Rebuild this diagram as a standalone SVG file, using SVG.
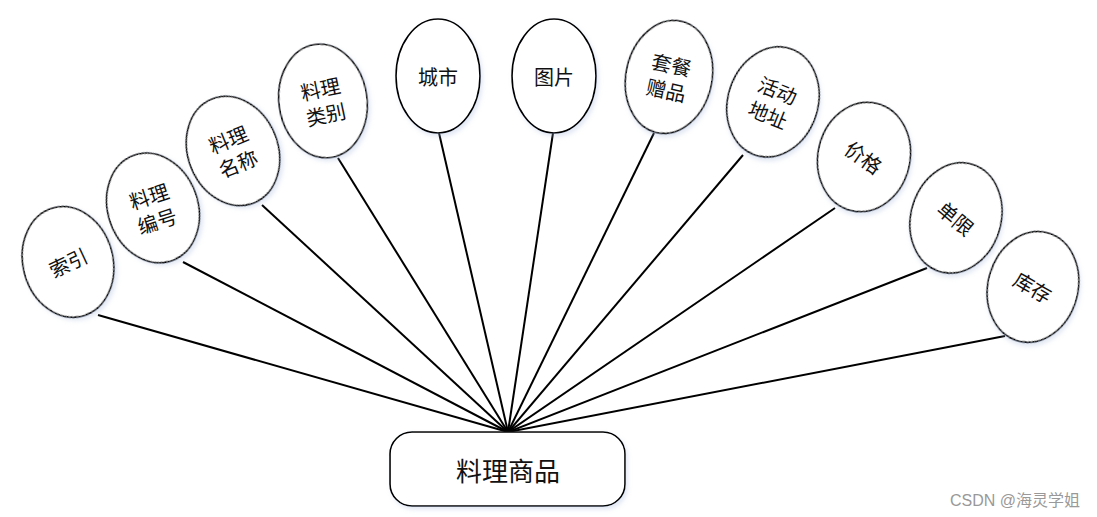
<svg xmlns="http://www.w3.org/2000/svg" width="1097" height="517" viewBox="0 0 1097 517">
<defs>
<filter id="sh" x="-20%" y="-20%" width="140%" height="140%">
<feDropShadow dx="2" dy="3" stdDeviation="2" flood-color="#9fb4d8" flood-opacity="0.3"/>
</filter>
<style>
.e{fill:#fff;stroke:#000;stroke-width:1.6;filter:url(#sh)}
.t{font-family:"Noto Sans CJK SC",sans-serif;font-size:20px;fill:#111;text-anchor:middle;dominant-baseline:central}
.c line{stroke:#000;stroke-width:2}
</style>
</defs>
<rect width="1097" height="517" fill="#fff"/>
<g class="c" id="connectors">
<line x1="98" y1="315" x2="508" y2="432"/>
<line x1="183" y1="262" x2="508" y2="432"/>
<line x1="262" y1="205" x2="508" y2="432"/>
<line x1="338" y1="158" x2="508" y2="432"/>
<line x1="439" y1="133" x2="508" y2="432"/>
<line x1="553" y1="133" x2="508" y2="432"/>
<line x1="654" y1="133" x2="508" y2="432"/>
<line x1="743" y1="155" x2="508" y2="432"/>
<line x1="835" y1="208" x2="508" y2="432"/>
<line x1="927" y1="268" x2="508" y2="432"/>
<line x1="1005" y1="336" x2="508" y2="432"/>
</g>
<g id="n1" transform="translate(68,262)"><ellipse class="e" rx="45" ry="56" transform="rotate(-15)"/><text class="t" transform="rotate(-25)">索引</text></g>
<g id="n2" transform="translate(153,208)"><ellipse class="e" rx="45" ry="56" transform="rotate(-20)"/><g transform="rotate(-18)"><text class="t" y="-13">料理</text><text class="t" y="13">编号</text></g></g>
<g id="n3" transform="translate(233,151)"><ellipse class="e" rx="45" ry="56" transform="rotate(-22)"/><g transform="rotate(-22)"><text class="t" y="-13">料理</text><text class="t" y="13">名称</text></g></g>
<g id="n4" transform="translate(323,101)"><ellipse class="e" rx="44" ry="57" transform="rotate(-8)"/><g transform="rotate(-12)"><text class="t" y="-13">料理</text><text class="t" y="13">类别</text></g></g>
<g id="n5" transform="translate(438,76)"><ellipse class="e" rx="42" ry="57"/><text class="t">城市</text></g>
<g id="n6" transform="translate(554,76)"><ellipse class="e" rx="42" ry="57"/><text class="t">图片</text></g>
<g id="n7" transform="translate(669,77)"><ellipse class="e" rx="43" ry="57" transform="rotate(12)"/><g transform="rotate(12)"><text class="t" y="-13">套餐</text><text class="t" y="13">赠品</text></g></g>
<g id="n8" transform="translate(773,102)"><ellipse class="e" rx="45" ry="56" transform="rotate(18)"/><g transform="rotate(22)"><text class="t" y="-13">活动</text><text class="t" y="13">地址</text></g></g>
<g id="n9" transform="translate(864,157)"><ellipse class="e" rx="46" ry="55" transform="rotate(13)"/><text class="t" transform="rotate(35)">价格</text></g>
<g id="n10" transform="translate(956,218)"><ellipse class="e" rx="45" ry="56" transform="rotate(17)"/><text class="t" transform="rotate(40)">单限</text></g>
<g id="n11" transform="translate(1033,287)"><ellipse class="e" rx="45" ry="56" transform="rotate(15)"/><text class="t" transform="rotate(30)">库存</text></g>
<g id="center"><rect class="e" x="390" y="432" width="235" height="74" rx="22"/><text class="t" x="508" y="469" style="font-size:26px">料理商品</text></g>
<text x="1080" y="500" style="font-family:'Liberation Sans','Noto Sans CJK SC',sans-serif;font-size:16px;fill:#999;text-anchor:end;dominant-baseline:central">CSDN @海灵学姐</text>
</svg>
